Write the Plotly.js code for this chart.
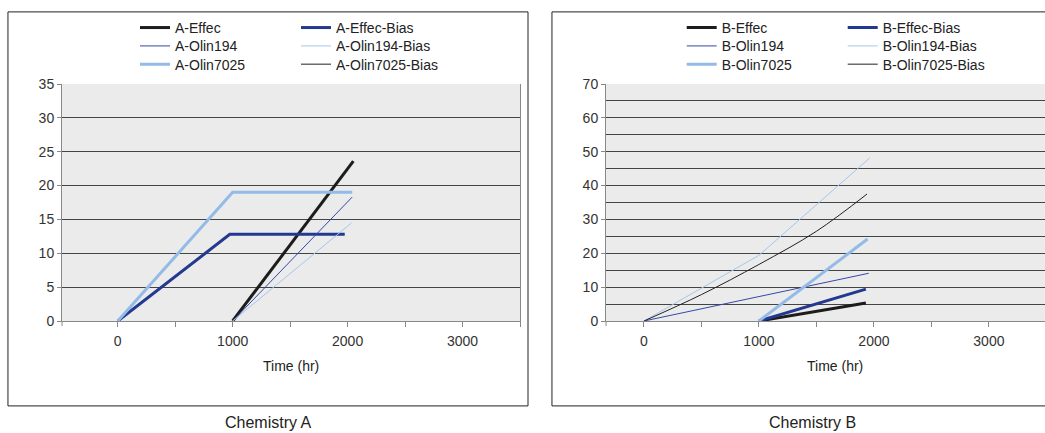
<!DOCTYPE html>
<html><head><meta charset="utf-8">
<script src="https://cdn.plot.ly/plotly-3.0.1.min.js"></script>
<style>
html,body{margin:0;padding:0;width:1045px;height:433px;overflow:hidden;background:#fff}
#chartA{position:absolute;left:0;top:0;width:540px;height:433px}
#chartB{position:absolute;left:540px;top:0;width:540px;height:433px}
</style></head>
<body><div id="chartA"></div><div id="chartB"></div>
<script>
// ---------- data ----------
const panelTitles = ['Chemistry A', 'Chemistry B'];
const xTitle = 'Time (hr)';
const seriesSuffix = ['Effec', 'Effec-Bias', 'Olin194', 'Olin194-Bias', 'Olin7025', 'Olin7025-Bias'];

// Chemistry A
const aEffecX = [1000, 2050];
const aEffecY = [0, 23.6];
const aEffecBiasX = [0, 975, 1975];
const aEffecBiasY = [0, 12.8, 12.8];
const aOlin194X = [1000, 2040];
const aOlin194Y = [0, 18.3];
const aOlin194BiasX = [1000, 2035];
const aOlin194BiasY = [0, 14.5];
const aOlin7025X = [0, 1000, 2040];
const aOlin7025Y = [0, 19.0, 19.0];
const aOlin7025BiasX = [null];
const aOlin7025BiasY = [null];

// Chemistry B
const bEffecX = [1000, 1930];
const bEffecY = [0, 5.3];
const bEffecBiasX = [1000, 1930];
const bEffecBiasY = [0, 9.4];
const bOlin194X = [0, 1955];
const bOlin194Y = [0, 14.1];
const bOlin194BiasX = [0, 1000, 1965];
const bOlin194BiasY = [0, 19.4, 48.2];
const bOlin7025X = [1000, 1945];
const bOlin7025Y = [0, 24.2];
const bOlin7025BiasX = [0, 500, 1000, 1500, 1940];
const bOlin7025BiasY = [0, 7.8, 16.7, 26.5, 37.5];

// ---------- styling ----------
const FONT = 'Liberation Sans, Arial, sans-serif';
const styles = [
  {color: '#1c1c1c', width: 3, legend: 'legend'},
  {color: '#23398f', width: 3, legend: 'legend'},
  {color: '#3448a8', width: 1, legend: 'legend2'},
  {color: '#a5c6ec', width: 1, legend: 'legend2'},
  {color: '#93bbe7', width: 3, legend: 'legend3'},
  {color: '#222222', width: 1, legend: 'legend3'}
];

function makeTraces(prefix, xs, ys, shapes) {
  return xs.map((x, i) => ({
    type: 'scatter', mode: 'lines', x: x, y: ys[i],
    name: prefix + '-' + seriesSuffix[i],
    legend: styles[i].legend,
    line: {color: styles[i].color, width: styles[i].width, shape: shapes[i] || 'linear'},
    hoverinfo: 'skip'
  }));
}

function legendDef(x, y) {
  return {orientation: 'h', x: x, xanchor: 'left', y: y, yanchor: 'middle',
    entrywidth: 116, entrywidthmode: 'pixels', bgcolor: 'rgba(0,0,0,0)',
    font: {family: FONT, size: 14, color: '#222'}, traceorder: 'normal'};
}

function makeLayout(opts) {
  const yAxis = {
    range: [0, opts.ymax], tickmode: 'linear', tick0: 0, dtick: opts.ydtick,
    ticks: 'outside', ticklen: 4, tickcolor: '#888',
    showline: true, linecolor: '#888', linewidth: 1, mirror: true,
    showgrid: true, gridcolor: '#444', gridwidth: 1, zeroline: false,
    tickfont: {family: FONT, size: 14, color: '#333'}, fixedrange: true
  };
  if (opts.yminor) {
    yAxis.minor = {dtick: opts.yminor, tick0: 0, showgrid: true, gridcolor: '#444', gridwidth: 1, ticks: ''};
  }
  return {
    width: 540, height: 433,
    margin: {l: opts.ml, r: 540 - opts.ml - 458, t: 81, b: 112, pad: 0},
    paper_bgcolor: '#fff', plot_bgcolor: '#ebebeb',
    showlegend: true,
    legend: legendDef(opts.lx, 1.2365),
    legend2: legendDef(opts.lx, 1.1590),
    legend3: legendDef(opts.lx, 1.0820),
    xaxis: {
      range: opts.xrange, tickmode: 'linear', tick0: 0, dtick: 1000,
      ticks: 'outside', ticklen: 5, tickcolor: '#888', ticklabelstandoff: 2,
      minor: {dtick: 500, tick0: 0, ticks: 'outside', ticklen: 5, tickcolor: '#888', showgrid: false},
      showline: true, linecolor: '#888', linewidth: 1,
      showgrid: false, zeroline: false,
      tickfont: {family: FONT, size: 14, color: '#333'}, fixedrange: true
    },
    yaxis: yAxis,
    shapes: [
      {type: 'rect', xref: 'paper', yref: 'paper',
        x0: -0.118, x1: 1.0175, y0: -0.3583, y1: 1.3042,
        line: {color: '#222', width: 1}, fillcolor: 'rgba(0,0,0,0)', layer: 'above'},
      {type: 'line', xref: 'paper', yref: 'paper', x0: 0, x1: 0, y0: 0, y1: -0.021,
        line: {color: '#888', width: 1}, layer: 'above'}
    ],
    annotations: [
      {text: xTitle, xref: 'paper', yref: 'paper', x: 0.5, y: -0.1917,
        xanchor: 'center', yanchor: 'middle', showarrow: false,
        font: {family: FONT, size: 14, color: '#222'}},
      {text: opts.title, xref: 'paper', yref: 'paper', x: 0.4498, y: -0.429,
        xanchor: 'center', yanchor: 'middle', showarrow: false,
        font: {family: FONT, size: 16, color: '#222'}}
    ]
  };
}

const cfg = {displayModeBar: false, staticPlot: true};

Plotly.newPlot('chartA',
  makeTraces('A',
    [aEffecX, aEffecBiasX, aOlin194X, aOlin194BiasX, aOlin7025X, aOlin7025BiasX],
    [aEffecY, aEffecBiasY, aOlin194Y, aOlin194BiasY, aOlin7025Y, aOlin7025BiasY], []),
  makeLayout({ml: 62, xrange: [-485, 3500], ymax: 35, ydtick: 5, yminor: null,
    lx: 0.1594, title: panelTitles[0]}), cfg);

Plotly.newPlot('chartB',
  makeTraces('B',
    [bEffecX, bEffecBiasX, bOlin194X, bOlin194BiasX, bOlin7025X, bOlin7025BiasX],
    [bEffecY, bEffecBiasY, bOlin194Y, bOlin194BiasY, bOlin7025Y, bOlin7025BiasY],
    [null, null, null, null, null, 'spline']),
  makeLayout({ml: 66, xrange: [-330, 3653], ymax: 70, ydtick: 10, yminor: 5,
    lx: 0.1653, title: panelTitles[1]}), cfg);
</script>
</body></html>
